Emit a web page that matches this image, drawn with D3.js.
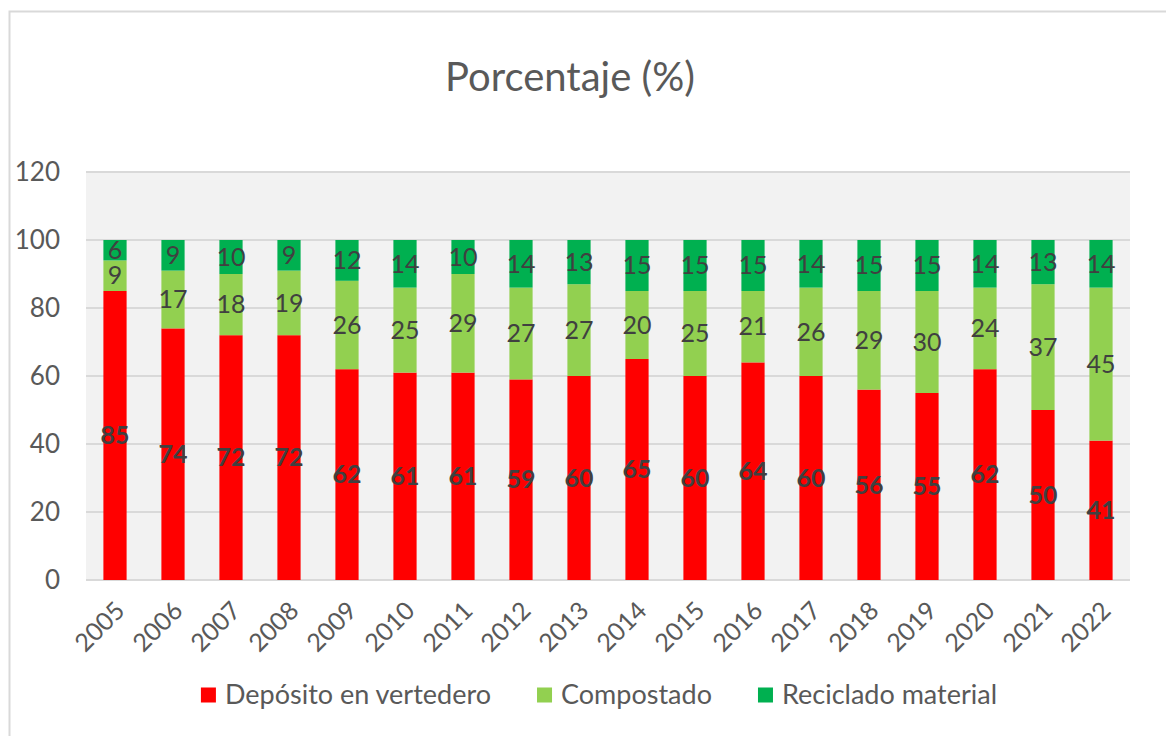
<!DOCTYPE html>
<html>
<head>
<meta charset="utf-8">
<style>
  html, body { margin: 0; padding: 0; background: #fff; }
  svg { display: block; font-family: Lato, "Open Sans", sans-serif; }
</style>
</head>
<body>
<svg width="1166" height="736"></svg>
<script src="https://d3js.org/d3.v7.min.js"></script>
<script>
var years = ["2005", "2006", "2007", "2008", "2009", "2010", "2011", "2012", "2013",
             "2014", "2015", "2016", "2017", "2018", "2019", "2020", "2021", "2022"];
var vertedero = [85, 74, 72, 72, 62, 61, 61, 59, 60, 65, 60, 64, 60, 56, 55, 62, 50, 41];
var compostado = [9, 17, 18, 19, 26, 25, 29, 27, 27, 20, 25, 21, 26, 29, 30, 24, 37, 45];
var reciclado = [6, 9, 10, 9, 12, 14, 10, 14, 13, 15, 15, 15, 14, 15, 15, 14, 13, 14];
var seriesNames = ["Depósito en vertedero", "Compostado", "Reciclado material"];
var yTicks = [0, 20, 40, 60, 80, 100, 120];

var colors = ["#ff0000", "#92d050", "#00b050"];
var textColor = "#595959";

var svg = d3.select("svg");

// outer chart border (right/bottom edges fall outside the picture)
svg.append("rect")
    .attr("x", 9.5).attr("y", 11.5)
    .attr("width", 1200).attr("height", 800)
    .attr("fill", "#fff")
    .attr("stroke", "#d9d9d9")
    .attr("stroke-width", 2);

var plot = {left: 86, right: 1130, top: 172, bottom: 580};

var x = d3.scaleBand()
    .domain(years)
    .range([plot.left, plot.right])
    .paddingInner(0.6)
    .paddingOuter(0.3);

var y = d3.scaleLinear()
    .domain([0, 120])
    .range([plot.bottom, plot.top]);

// plot background
svg.append("rect")
    .attr("x", plot.left).attr("y", plot.top)
    .attr("width", plot.right - plot.left)
    .attr("height", plot.bottom - plot.top)
    .attr("fill", "#f2f2f2");

// gridlines
svg.append("g")
  .selectAll("line")
  .data(yTicks)
  .join("line")
    .attr("x1", plot.left).attr("x2", plot.right)
    .attr("y1", function(d) { return y(d); })
    .attr("y2", function(d) { return y(d); })
    .attr("stroke", "#d9d9d9")
    .attr("stroke-width", 2);

// y axis labels
var yAxis = svg.append("g")
    .attr("transform", "translate(" + (plot.left - 26) + ",0)")
    .call(d3.axisLeft(y).tickValues(yTicks).tickSize(0).tickPadding(0));
yAxis.select(".domain").remove();
yAxis.selectAll("text")
    .attr("font-family", "Lato, sans-serif")
    .attr("font-size", 26)
    .attr("fill", textColor);

// x axis labels, rotated
var xAxis = svg.append("g")
    .attr("transform", "translate(0," + (plot.bottom + 14) + ")")
    .call(d3.axisBottom(x).tickSize(0).tickPadding(0));
xAxis.select(".domain").remove();
xAxis.selectAll("text")
    .attr("font-family", "Lato, sans-serif")
    .attr("font-size", 25)
    .attr("fill", textColor)
    .attr("text-anchor", "end")
    .attr("dy", "0.35em")
    .attr("transform", "translate(5,12) rotate(-45)");

// stacked data
var rows = years.map(function(yr, i) {
  return {year: yr, a: vertedero[i], b: compostado[i], c: reciclado[i]};
});
var stack = d3.stack().keys(["a", "b", "c"]);
var layers = stack(rows);

var gLayers = svg.append("g")
  .selectAll("g")
  .data(layers)
  .join("g")
    .attr("fill", function(d, i) { return colors[i]; });

gLayers.selectAll("rect")
  .data(function(d) { return d; })
  .join("rect")
    .attr("x", function(d) { return x(d.data.year); })
    .attr("width", x.bandwidth())
    .attr("y", function(d) { return y(d[1]); })
    .attr("height", function(d) { return y(d[0]) - y(d[1]); });

// data labels
var gLabels = svg.append("g")
  .selectAll("g")
  .data(layers)
  .join("g")
    .attr("font-weight", function(d, i) { return i === 0 ? "bold" : "normal"; });

gLabels.selectAll("text")
  .data(function(d) { return d; })
  .join("text")
    .attr("x", function(d) { return x(d.data.year) + x.bandwidth() / 2; })
    .attr("y", function(d) { return y((d[0] + d[1]) / 2); })
    .attr("dy", "0.35em")
    .attr("text-anchor", "middle")
    .attr("font-size", 25)
    .attr("fill", "#404040")
    .text(function(d) { return d[1] - d[0]; });

// title
svg.append("text")
    .attr("x", 570)
    .attr("y", 91)
    .attr("text-anchor", "middle")
    .attr("font-size", 40)
    .attr("fill", textColor)
    .text("Porcentaje (%)");

// legend
var legend = svg.append("g").attr("transform", "translate(0,695)");
var items = legend.selectAll("g")
  .data(seriesNames)
  .join("g");
items.append("rect")
    .attr("width", 15).attr("height", 15)
    .attr("y", -7.5)
    .attr("fill", function(d, i) { return colors[i]; });
items.append("text")
    .attr("x", 24)
    .attr("dy", "0.35em")
    .attr("font-size", 27)
    .attr("fill", textColor)
    .text(function(d) { return d; });

var cursor = 0;
items.each(function() {
  var w = this.getBBox().width;
  d3.select(this).attr("transform", "translate(" + cursor + ",0)");
  cursor += w + 46;
});
var total = cursor - 46;
legend.attr("transform", "translate(" + (599 - total / 2) + ",695)");
</script>
</body>
</html>
